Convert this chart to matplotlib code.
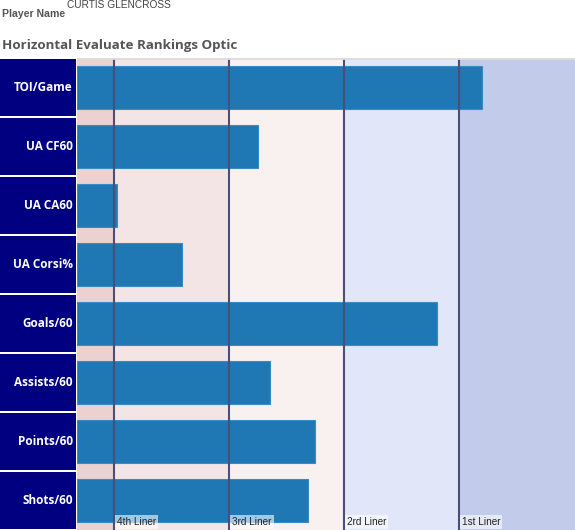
import matplotlib
matplotlib.use("Agg")
from matplotlib import pyplot as plt
from matplotlib.patches import Rectangle

plt.rcParams['font.family'] = ['Open Sans', 'DejaVu Sans']

# data
metrics = ["TOI/Game", "UA CF60", "UA CA60", "UA Corsi%",
           "Goals/60", "Assists/60", "Points/60", "Shots/60"]
scores = [81.3, 36.4, 8.1, 21.0, 72.3, 38.8, 47.7, 46.4]
tier_edges = [0, 7.5, 30.6, 53.6, 76.7, 100]
tier_names = ["4th Liner", "3rd Liner", "2rd Liner", "1st Liner"]
tier_colors = ["#ecd1d1", "#f3e5e5", "#f9f0f0", "#e1e6f8", "#c3cbeb"]

W, H = 575, 530
fig = plt.figure(figsize=(W / 100, H / 100), dpi=100)

top = 58
ax = fig.add_axes([77 / W, 0, 498 / W, (H - top) / H])
lab = fig.add_axes([0, 0, 76 / W, (H - top) / H])

n = len(metrics)

# bandy pozadia
for i in range(len(tier_colors)):
    ax.axvspan(tier_edges[i], tier_edges[i + 1], color=tier_colors[i], zorder=0, lw=0)

# hranice tried
for x in tier_edges[1:-1]:
    ax.axvline(x, color="#4a4f7a", lw=1.5, zorder=3)

# stlpce
ypos = list(range(n))
ax.barh(ypos, scores, height=0.73, color="#1f77b4", edgecolor="#3a8ac4",
        lw=0.8, zorder=2)

ax.set_xlim(0, 100)
ax.set_ylim(n - 0.5, -0.5)
ax.set_xticks([])
ax.set_yticks([])
for s in ax.spines.values():
    s.set_visible(False)
ax.axhline(-0.5, color="#dddddd", lw=2, zorder=4)

# popisky tried
for x, name in zip(tier_edges[1:-1], tier_names):
    ax.text(x + 0.6, n - 0.5 - 0.13, name, fontsize=7.2, color="#222222",
            va="center", ha="left", zorder=5, family=["Liberation Sans", "DejaVu Sans"],
            bbox=dict(boxstyle="square,pad=0.2", fc="white", ec="none", alpha=0.6))

# lavy stlpec s nazvami
lab.set_xlim(0, 1)
lab.set_ylim(n - 0.5, -0.5)
lab.axis("off")
for i, m in enumerate(metrics):
    lab.add_patch(Rectangle((0, i - 0.5 + 0.02), 1, 0.96, color="#000080", lw=0))
    lab.text(0.955, i, m, color="white", fontsize=8.5, fontweight="bold",
             ha="right", va="center")

fig.text(2 / W, 1 - 14 / H, "Player Name", fontsize=7.6, fontweight="bold",
         color="#555555", va="center", ha="left", family=["Liberation Sans", "DejaVu Sans"])
fig.text(67 / W, 1 - 5 / H, "CURTIS GLENCROSS", fontsize=7.3,
         color="#444444", va="center", ha="left", family=["Liberation Sans", "DejaVu Sans"])
fig.text(2 / W, 1 - 45 / H, "Horizontal Evaluate Rankings Optic", fontsize=9.6,
         fontweight="bold", color="#555555", va="center", ha="left")

fig.savefig("out.png", dpi=100)
